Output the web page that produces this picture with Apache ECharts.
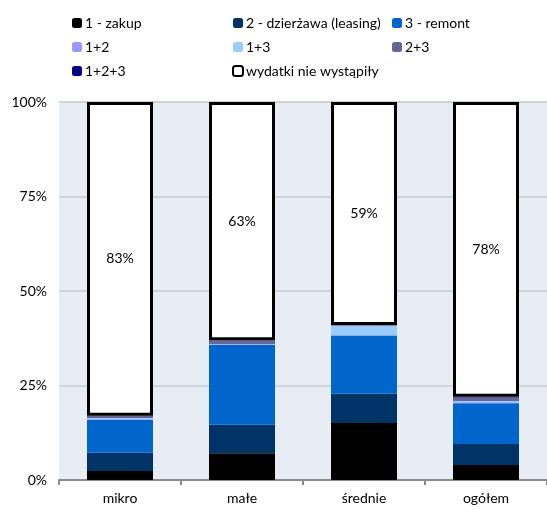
<!DOCTYPE html>
<html>
<head>
<meta charset="utf-8">
<script src="https://cdn.jsdelivr.net/npm/echarts@6/dist/echarts.min.js"></script>
<style>
    html, body { margin: 0; padding: 0; background: #fff; }
    #chart { width: 547px; height: 510px; }
</style>
</head>
<body>
<div id="chart"></div>
<script>
// kategorie i udzialy (%)
var categories = ['mikro', 'małe', 'średnie', 'ogółem'];
var zakup = [2.4, 7.1, 15.1, 4.0];
var leasing = [4.8, 7.5, 7.7, 5.5];
var remont = [8.7, 21.1, 15.4, 10.8];
var z12 = [0.2, 0.2, 0.1, 0.3];
var z13 = [0.3, 0.1, 2.5, 0.3];
var z23 = [0.6, 1.0, 0.2, 0.9];
var z123 = [0, 0, 0, 0.2];
var brak = [83, 63, 59, 78];
var yTicks = [0, 25, 50, 75, 100];

var names = ['1 - zakup', '2 - dzierżawa (leasing)', '3 - remont', '1+2', '1+3', '2+3', '1+2+3', 'wydatki nie wystąpiły'];
var colors = ['#000000', '#003366', '#0066cc', '#9999ff', '#99ccff', '#666699', '#000080', '#ffffff'];
var values = [zakup, leasing, remont, z12, z13, z23, z123, brak];

var font = 'Lato, "Liberation Sans", sans-serif';

var series = values.map(function (v, i) {
    var s = {
        name: names[i],
        type: 'bar',
        stack: 'all',
        barWidth: 66,
        data: v,
        itemStyle: { color: colors[i] }
    };
    if (i === 7) {
        s.itemStyle = { color: '#ffffff', borderColor: '#000000', borderWidth: 3 };
        s.label = {
            show: true,
            position: 'inside',
            formatter: '{c}%',
            color: '#000',
            fontSize: 14,
            fontFamily: font
        };
    }
    return s;
});

function legendCol(left, data) {
    return {
        orient: 'vertical',
        left: left,
        top: 11,
        itemWidth: 10,
        itemHeight: 10,
        itemGap: 10,
        icon: 'roundRect',
        textStyle: { fontSize: 14, fontFamily: font, color: '#000', padding: [0, 0, 0, -2] },
        data: data
    };
}

var chart = echarts.init(document.getElementById('chart'));
chart.setOption({
    animation: false,
    color: colors,
    legend: [
        legendCol(67, [names[0], names[3], names[6]]),
        legendCol(227, [names[1], names[4], names[7]]),
        legendCol(387, [names[2], names[5]])
    ],
    grid: {
        left: 59,
        top: 102,
        width: 492,
        bottom: 30,
        show: true,
        backgroundColor: '#e8ecf4',
        borderWidth: 0
    },
    xAxis: {
        type: 'category',
        data: categories,
        axisLine: { lineStyle: { color: '#8c8c8c', width: 2 } },
        axisTick: { show: true, length: 5, lineStyle: { color: '#8c8c8c', width: 2 } },
        axisLabel: { fontSize: 14, fontFamily: font, color: '#000', margin: 11 }
    },
    yAxis: {
        type: 'value',
        min: yTicks[0],
        max: yTicks[yTicks.length - 1],
        interval: 25,
        axisLine: { show: false },
        axisTick: { show: false },
        axisLabel: { formatter: '{value}%', fontSize: 14, fontFamily: font, color: '#000', margin: 12 },
        splitLine: { lineStyle: { color: '#d0d3d8', width: 2 } }
    },
    series: series
});
</script>
</body>
</html>
